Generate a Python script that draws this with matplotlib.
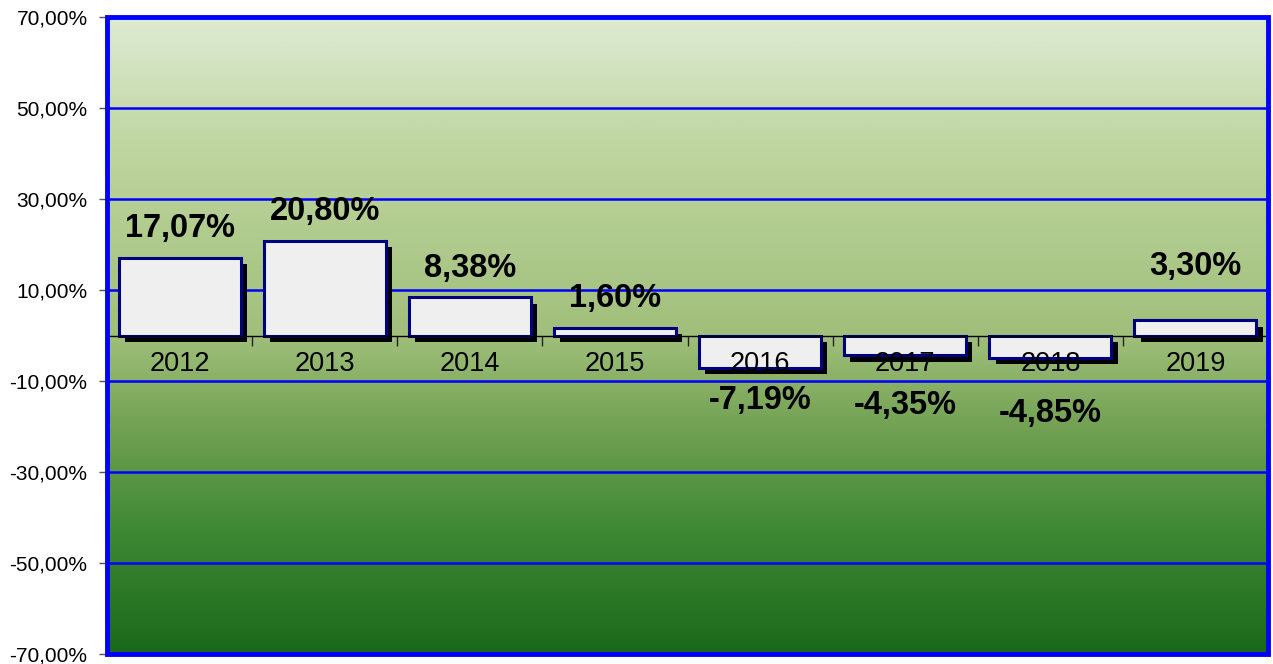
import numpy as np
import matplotlib
matplotlib.use("Agg")
import matplotlib.pyplot as plt
import matplotlib.patheffects as pe
from matplotlib.colors import LinearSegmentedColormap
from matplotlib.patches import Rectangle

plt.rcParams['font.family'] = ['Liberation Sans', 'DejaVu Sans']

years = ["2012", "2013", "2014", "2015", "2016", "2017", "2018", "2019"]
values = [17.07, 20.80, 8.38, 1.60, -7.19, -4.35, -4.85, 3.30]
ytick_values = [-70, -50, -30, -10, 10, 30, 50, 70]
# label offsets (pixels from bar end) as placed in the original
label_offsets = [29, 29, 29, 30, 32, 50, 56, 54]

W, H = 1273, 664
fig = plt.figure(figsize=(W / 100, H / 100), dpi=100)
ax = fig.add_axes([107 / W, 10 / H, 1161 / W, 637 / H])

# gradient background
cmap = LinearSegmentedColormap.from_list("bg", [
    (0.0, (0.87, 0.92, 0.83)),
    (0.2, (0.75, 0.84, 0.63)),
    (0.5, (0.63, 0.75, 0.48)),
    (0.65, (0.44, 0.63, 0.32)),
    (0.8, (0.25, 0.54, 0.21)),
    (1.0, (0.10, 0.41, 0.10)),
])
grad = np.linspace(0, 1, 256).reshape(-1, 1)
ax.imshow(grad, cmap=cmap, aspect='auto', extent=[0, 1, 0, 1],
          transform=ax.transAxes, zorder=0, interpolation='bicubic')

x = np.arange(len(years))
ax.set_xlim(-0.5, len(years) - 0.5)
ax.set_ylim(-70, 70)

for t in ytick_values:
    ax.axhline(t, color='#0000ff', lw=1.8, zorder=0.6)

bars = ax.bar(x, values, width=0.84, color='#efefef', edgecolor='#000080',
              linewidth=2.2, zorder=1,
              path_effects=[pe.SimplePatchShadow(offset=(4.5, -4.5), shadow_rgbFace='black', alpha=1.0),
                            pe.Normal()])

for xi, v, off in zip(x, values, label_offsets):
    txt = f"{v:.2f}%".replace('.', ',')
    ax.annotate(txt, (xi, v), xytext=(0, off if v >= 0 else -off),
                textcoords='offset pixels', ha='center', va='center',
                fontsize=23.5, fontweight='bold', color='black', zorder=3)

# axes styling
for s in ['top', 'right', 'left']:
    ax.spines[s].set_visible(False)
ax.spines['bottom'].set_position(('data', 0))
ax.spines['bottom'].set_color('black')
ax.spines['bottom'].set_linewidth(1.0)
ax.spines['bottom'].set_zorder(1.5)

ax.set_xticks(x)
ax.set_xticklabels(years, fontsize=19.5)
ax.set_xticks(np.arange(-0.5, len(years), 1), minor=True)
ax.tick_params(axis='x', which='major', length=0, pad=11)
ax.tick_params(axis='x', which='minor', length=7, width=1, color='#222222', direction='out')

ax.set_yticks(ytick_values)
ax.set_yticklabels([f"{v:.2f}%".replace('.', ',') for v in ytick_values], fontsize=15)
ax.tick_params(axis='y', length=6, width=1, color='#555555', pad=8)

frame = Rectangle((0, 0), 1, 1, transform=ax.transAxes, fill=False,
                  edgecolor='#0000ff', linewidth=3.5, clip_on=False, zorder=5)
ax.add_patch(frame)

fig.savefig("out.png", dpi=100)
